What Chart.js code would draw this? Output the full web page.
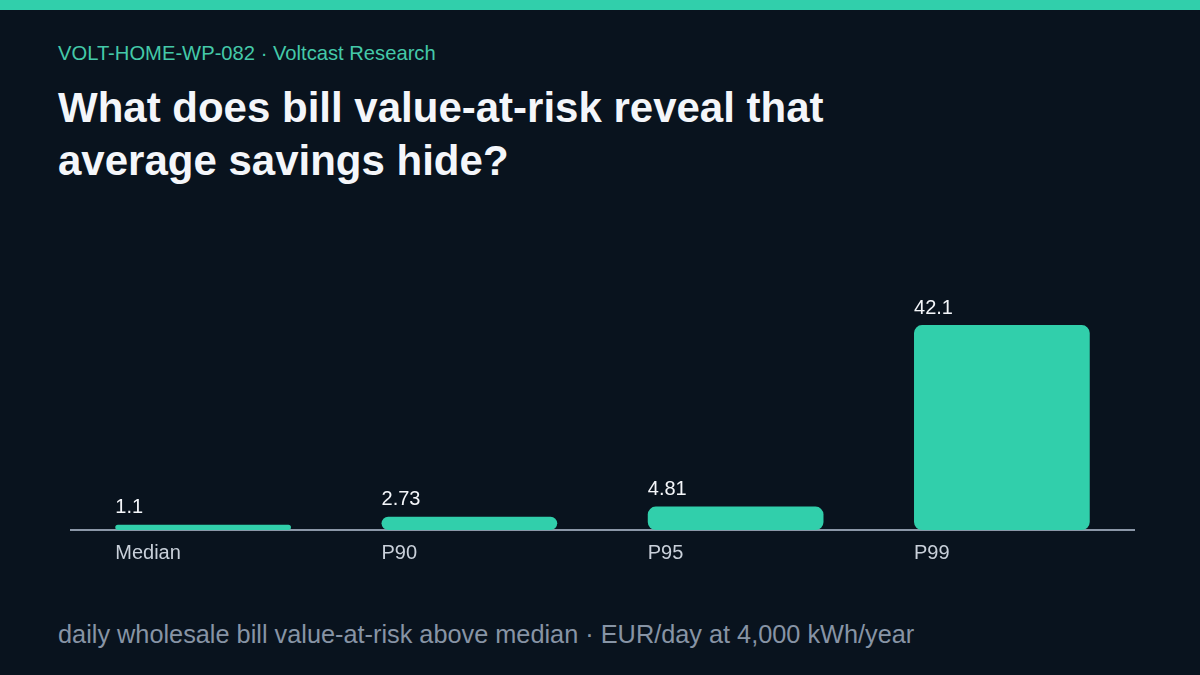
<!DOCTYPE html>
<html>
<head>
<meta charset="utf-8">
<script src="https://cdn.jsdelivr.net/npm/chart.js@4"></script>
<style>
	html, body { margin: 0; padding: 0; }
	body {
		width: 1200px; height: 675px; overflow: hidden; position: relative;
		background: #09131e; font-family: "Liberation Sans", Arial, sans-serif;
	}
	.topbar { position: absolute; left: 0; top: 0; width: 1200px; height: 10px; background: #31cfab; }
	.kicker { position: absolute; left: 58px; top: 42px; font-size: 20.2px; color: #44c9a9; }
	.title {
		position: absolute; left: 58px; top: 81px; width: 1000px;
		font-size: 42px; line-height: 53px; font-weight: bold; color: #f4f6fa;
	}
	.note { position: absolute; left: 58px; top: 620px; font-size: 25.3px; color: #8794a5; }
	.wrap { position: absolute; left: 70px; top: 200px; width: 1065px; height: 375px; }
</style>
</head>
<body>
<div class="topbar"></div>
<div class="kicker">VOLT-HOME-WP-082 · Voltcast Research</div>
<div class="title">What does bill value-at-risk reveal that<br>average savings hide?</div>
<div class="wrap"><canvas id="varChart"></canvas></div>
<div class="note">daily wholesale bill value-at-risk above median · EUR/day at 4,000 kWh/year</div>

<script>
"use strict";

const categories = ["Median", "P90", "P95", "P99"];
const var_values = [1.1, 2.73, 4.81, 42.1];
const value_labels = ["1.1", "2.73", "4.81", "42.1"];

// draws the baseline, the value above each bar and the category under it
const bar_labels = {
	id: "bar_labels",
	beforeDatasetsDraw(chart) {
		let ctx = chart.ctx;
		let area = chart.chartArea;
		ctx.save();
		ctx.strokeStyle = "#8b97a8";
		ctx.lineWidth = 2;
		ctx.beginPath();
		ctx.moveTo(area.left, area.bottom);
		ctx.lineTo(area.right, area.bottom);
		ctx.stroke();
		ctx.restore();
	},
	afterDatasetsDraw(chart) {
		let ctx = chart.ctx;
		let meta = chart.getDatasetMeta(0);
		ctx.save();
		ctx.font = "20px 'Liberation Sans', Arial, sans-serif";
		ctx.textAlign = "left";
		meta.data.forEach((bar, i) => {
			let left = bar.x - bar.width / 2;
			ctx.fillStyle = "#f4f6fa";
			ctx.textBaseline = "bottom";
			ctx.fillText(value_labels[i], left, bar.y - 7);
			ctx.fillStyle = "#c9d0da";
			ctx.textBaseline = "top";
			ctx.fillText(categories[i], left, chart.chartArea.bottom + 13);
		});
		ctx.restore();
	},
};

let ctx = document.getElementById("varChart").getContext("2d");
new Chart(ctx, {
	type: "bar",
	data: {
		labels: categories,
		datasets: [
			{
				data: var_values,
				backgroundColor: "#31cfab",
				borderWidth: 0,
				borderRadius: 8,
				borderSkipped: false,
				categoryPercentage: 1,
				barPercentage: 0.66,
			},
		],
	},
	options: {
		responsive: true,
		maintainAspectRatio: false,
		animation: false,
		layout: { padding: { top: 0, bottom: 45, left: 0, right: 0 } },
		plugins: { legend: { display: false }, tooltip: { enabled: false } },
		scales: {
			x: { display: false },
			y: { display: false, min: 0, max: 67.8 },
		},
	},
	plugins: [bar_labels],
});
</script>
</body>
</html>
